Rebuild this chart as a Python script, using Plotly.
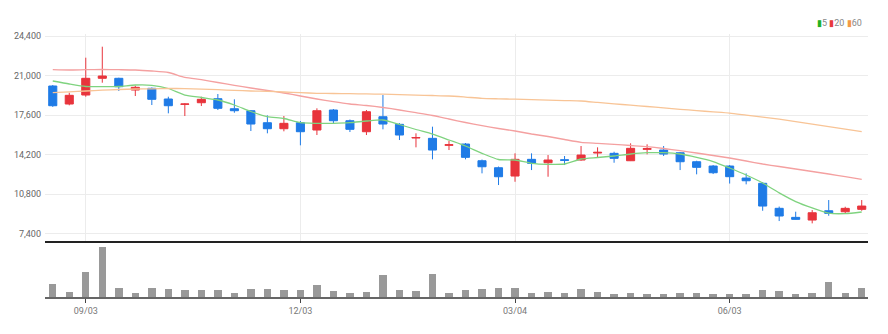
import plotly.graph_objects as go
import pandas as pd

# ---------------- data ----------------
dates = [d.strftime("%Y-%m-%d") for d in pd.date_range("2024-08-20", periods=50, freq="7D")]

opens = [20095, 18545, 19320, 20758, 20758, 19750, 19897, 18976, 18520, 18657,
         19002, 18140, 17968, 16935, 16418, 16935, 16307, 18029, 17107, 16160,
         17452, 16797, 15618, 15592, 14989, 15101, 13663, 13061, 12346, 13784,
         13491, 13750, 13724, 14326, 14300, 13663, 14645, 14584, 14352, 13577,
         13207, 13207, 12174, 11720, 9568, 8789, 8557, 9358, 9272, 9479]
highs = [20180, 19518, 22532, 23479, 20810, 20121, 19970, 19174, 18606, 19174,
         19406, 18950, 18029, 17572, 17512, 17082, 18175, 18114, 17210, 18029,
         19320, 16900, 16023, 16595, 15386, 15187, 13766, 13164, 14300, 14300,
         14154, 14068, 14929, 14817, 14438, 15161, 15075, 14929, 14412, 13663,
         13293, 13293, 12578, 11829, 9720, 9276, 9419, 10280, 9703, 10280]
lows = [18300, 18433, 19174, 20379, 19665, 19234, 18459, 17744, 17512, 18373,
        18029, 17796, 16221, 16023, 16195, 14989, 15876, 16883, 16134, 15876,
        16367, 15446, 14817, 13784, 14584, 13784, 12578, 11571, 11855, 12862,
        12286, 13293, 13663, 13955, 13491, 13637, 14214, 14068, 12862, 12492,
        12518, 11700, 11631, 9358, 8471, 8600, 8273, 8927, 9134, 9358]
closes = [18399, 19294, 20758, 20956, 20035, 19983, 18950, 18399, 18545, 18950,
          18175, 17968, 16823, 16418, 16883, 16160, 17968, 17107, 16367, 17882,
          16823, 15876, 15661, 14584, 15041, 13955, 13146, 12286, 13784, 13440,
          13724, 13698, 14154, 14386, 13870, 14731, 14705, 14240, 13577, 13095,
          12630, 12289, 11941, 9763, 8906, 8617, 9186, 9134, 9565, 9763]

ma5 = [20526, 20268, 20053, 20036, 20053, 20182, 20156, 19881, 19321, 19106,
       18891, 18460, 17901, 17453, 17298, 16937, 16885, 16885, 16937, 17083,
       17169, 16782, 16352, 15964, 15448, 14932, 14303, 13770, 13727, 13443,
       13356, 13382, 13812, 13942, 14071, 14243, 14355, 14355, 14243, 13959,
       13597, 13038, 12435, 11750, 10900, 10150, 9600, 9150, 9110, 9250]
ma20 = [21498, 21473, 21499, 21516, 21499, 21473, 21387, 21258, 20836, 20638,
        20397, 20156, 19924, 19709, 19494, 19235, 18977, 18744, 18546, 18417,
        18245, 18030, 17798, 17557, 17255, 16954, 16679, 16438, 16222, 15964,
        15749, 15491, 15250, 15164, 15078, 14974, 14871, 14716, 14527, 14328,
        14113, 13898, 13640, 13382, 13166, 12951, 12736, 12521, 12289, 12065]
ma60 = [19519, 19597, 19666, 19734, 19795, 19838, 19855, 19881, 19872, 19821,
        19777, 19717, 19666, 19631, 19580, 19519, 19468, 19450, 19433, 19416,
        19390, 19356, 19313, 19278, 19235, 19141, 19037, 18994, 18960, 18917,
        18882, 18839, 18805, 18684, 18564, 18443, 18331, 18211, 18090, 17978,
        17867, 17755, 17582, 17410, 17238, 17032, 16816, 16601, 16377, 16162]

volumes = [78000, 34000, 154000, 300000, 54000, 26000, 54000, 50000, 42000, 42000,
           42000, 26000, 50000, 50000, 42000, 44000, 72000, 36000, 28000, 32000,
           136000, 44000, 36000, 142000, 24000, 44000, 50000, 58000, 54000, 26000,
           32000, 24000, 48000, 32000, 18000, 26000, 18000, 18000, 26000, 26000,
           18000, 18000, 18000, 42000, 36000, 18000, 24000, 90000, 26000, 58000]

tick_dates = ["2024-09-03", "2024-12-03", "2025-03-04", "2025-06-03"]
tick_labels = ["09/03", "12/03", "03/04", "06/03"]
price_ticks = [7400, 10800, 14200, 17600, 21000, 24400]

ma_names = ["5", "20", "60"]
ma_colors = ["#7fd37f", "#f4a0a0", "#f8c496"]
legend_colors = ["#22b022", "#e83a3a", "#f39a45"]

UP = "#e8343c"
DOWN = "#1f7be6"
FONT = "Liberation Sans Narrow, Roboto, sans-serif"

# ---------------- figure ----------------
fig = go.Figure()

fig.add_trace(go.Candlestick(
    x=dates, open=opens, high=highs, low=lows, close=closes,
    increasing=dict(line=dict(color=UP, width=1), fillcolor=UP),
    decreasing=dict(line=dict(color=DOWN, width=1), fillcolor=DOWN),
    whiskerwidth=0, showlegend=False, xaxis="x", yaxis="y",
))

for vals, col in zip([ma5, ma20, ma60], ma_colors):
    fig.add_trace(go.Scatter(
        x=dates, y=vals, mode="lines",
        line=dict(color=col, width=1.3, shape="spline", smoothing=0.6),
        showlegend=False, xaxis="x", yaxis="y", hoverinfo="skip",
    ))

fig.add_trace(go.Bar(
    x=dates, y=volumes, marker=dict(color="#999999", line=dict(width=0)),
    width=0.45, showlegend=False, xaxis="x2", yaxis="y2",
))

W, H = 888, 334
L, R, T, B = 45, 20, 34, 37
pw, ph = W - L - R, H - T - B

def px(xp):
    return (xp - L) / pw

def py(yp):
    return (H - B - yp) / ph

xr = [-0.47, 49.38]

fig.update_layout(
    width=W, height=H,
    margin=dict(l=L, r=R, t=T, b=B),
    paper_bgcolor="white", plot_bgcolor="white",
    font=dict(family=FONT, size=9, color="#666"),
    bargap=0,
    xaxis=dict(
        type="category", domain=[0, 1], anchor="y", range=xr,
        tickvals=tick_dates, ticktext=tick_labels, showticklabels=False,
        showgrid=True, gridcolor="#ececec", gridwidth=1,
        showline=True, linecolor="#222", linewidth=2, ticks="",
        rangeslider=dict(visible=False), fixedrange=True,
    ),
    yaxis=dict(
        domain=[0.214, 1], anchor="x", range=[6779, 24572],
        tickvals=price_ticks, ticktext=[f"{v:,}" for v in price_ticks],
        showgrid=True, gridcolor="#ececec", gridwidth=1, zeroline=False,
        showline=False, ticks="", ticklabelstandoff=3,
        tickfont=dict(size=9, color="#666"),
    ),
    xaxis2=dict(
        type="category", domain=[0, 1], anchor="y2", range=xr, matches="x",
        tickvals=tick_dates, ticktext=tick_labels, showticklabels=True,
        showgrid=False, showline=True, linecolor="#666", linewidth=2,
        ticks="outside", ticklen=4, tickcolor="#444", tickwidth=1,
        tickfont=dict(size=9, color="#777"),
    ),
    yaxis2=dict(
        domain=[0, 0.21], anchor="x2", range=[0, 333000],
        showgrid=False, showticklabels=False, zeroline=False, showline=False,
    ),
)

# legend: coloured markers + labels in one annotation
parts = [f"<span style='color:{c}'>\u25AE</span>{n}" for n, c in zip(ma_names, legend_colors)]
fig.add_annotation(xref="paper", yref="paper", x=px(863), y=py(23.3),
                   text=" ".join(parts), showarrow=False, xanchor="right", yanchor="middle",
                   font=dict(size=9, color="#888", family=FONT), borderpad=0)

fig.write_html("out.html")
